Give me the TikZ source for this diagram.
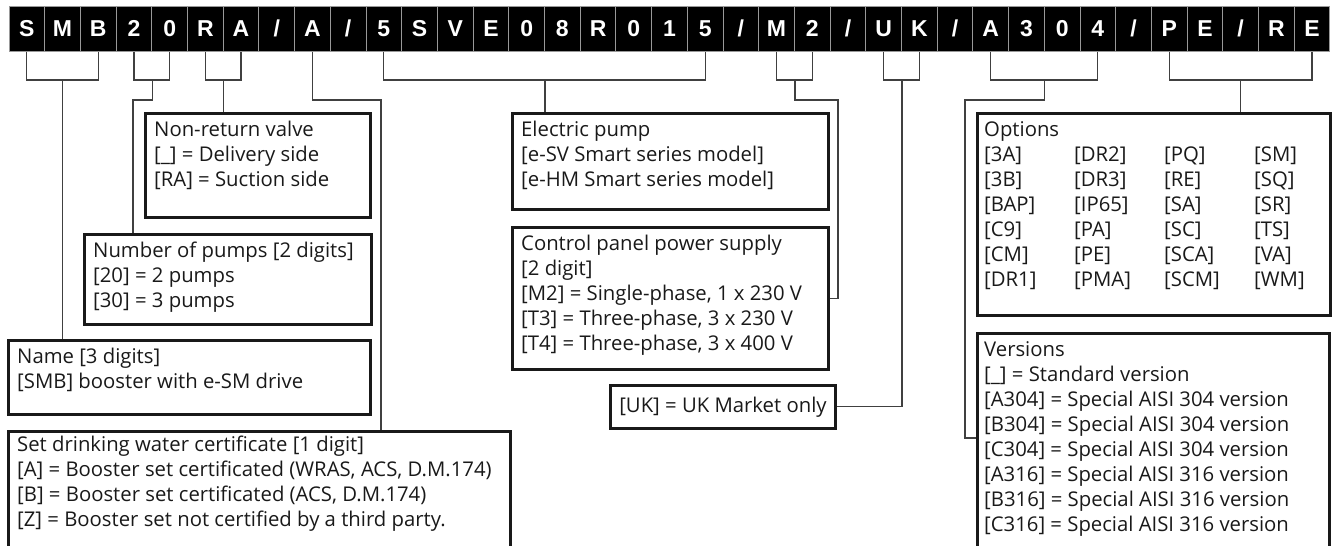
\documentclass[tikz,border=0pt]{standalone}
\usepackage{fontspec}
\setmainfont{Open Sans}
\newfontfamily\cellfont{Liberation Sans}
\newcommand\optrow[4]{\makebox[90pt][l]{#1}\makebox[90pt][l]{#2}\makebox[90pt][l]{#3}#4}

\begin{document}
\begin{tikzpicture}[x=1pt,y=-1pt,
  cell/.style={fill=black,draw=black!40,line width=1pt,
               minimum width=35.7pt,minimum height=45pt,inner sep=0pt,
               text=white,font=\cellfont\bfseries\fontsize{23}{23}\selectfont},
  box/.style={draw=black!90,line width=2.6pt,anchor=north west,inner sep=0pt},
  txt/.style={anchor=north west,inner xsep=10pt,inner ysep=9pt,align=left,
              font=\fontsize{20.3}{25}\selectfont,text=black!90},
  ln/.style={draw=black!75,line width=1.2pt}]
  \useasboundingbox (0,0) rectangle (1334,546);
  \clip (0,0) rectangle (1334,546);
  % code cells
  \foreach \ch [count=\i from 0] in {S,M,B,2,0,R,A,/,A,/,5,S,V,E,0,8,R,0,1,5,/,M,2,/,U,K,/,A,3,0,4,/,P,E,/,R,E}
    \node[cell] (c\i) at ({26.85+35.7*\i},28.5) {\ch};
  \coordinate (lv) at (0,80);
  % boxes
  \node[box,minimum width=225pt,minimum height=104pt] (nrv) at (144,112) {};
  \node[txt] (nrvT) at (nrv.north west) {Non-return valve\\{}[\_] = Delivery side\\{}[RA] = Suction side};
  \node[box,minimum width=287pt,minimum height=90pt] (nop) at (83,233) {};
  \node[txt] (nopT) at (nop.north west) {Number of pumps [2 digits]\\{}[20] = 2 pumps\\{}[30] = 3 pumps};
  \node[box,minimum width=362pt,minimum height=74pt] (nam) at (7,339) {};
  \node[txt] (namT) at (nam.north west) {Name [3 digits]\\{}[SMB] booster with e-SM drive};
  \node[box,minimum width=502pt,minimum height=140pt] (cert) at (7,430) {};
  \node[txt,inner ysep=6pt] (certT) at (cert.north west) {Set drinking water certificate [1 digit]\\{}[A] = Booster set certificated (WRAS, ACS, D.M.174)\\{}[B] = Booster set certificated (ACS, D.M.174)\\{}[Z] = Booster set not certified by a third party.};
  \node[box,minimum width=316pt,minimum height=96pt] (elp) at (511,112) {};
  \node[txt] (elpT) at (elp.north west) {Electric pump\\{}[e-SV Smart series model]\\{}[e-HM Smart series model]};
  \node[box,minimum width=316pt,minimum height=142pt] (cpp) at (511,226) {};
  \node[txt] (cppT) at (cpp.north west) {Control panel power supply\\{}[2 digit]\\{}[M2] = Single-phase, 1 x 230 V\\{}[T3] = Three-phase, 3 x 230 V\\{}[T4] = Three-phase, 3 x 400 V};
  \node[box,minimum height=43pt,inner xsep=9pt,font=\fontsize{20.3}{25}\selectfont,text=black!90] (uk) at (609,384) {[UK] = UK Market only};
  \node[box,minimum width=353pt,minimum height=202pt] (opt) at (976,112) {};
  \node[txt,inner xsep=8pt] (optT) at (opt.north west) {Options\\
    \optrow{[3A]}{[DR2]}{[PQ]}{[SM]}\\
    \optrow{[3B]}{[DR3]}{[RE]}{[SQ]}\\
    \optrow{[BAP]}{[IP65]}{[SA]}{[SR]}\\
    \optrow{[C9]}{[PA]}{[SC]}{[TS]}\\
    \optrow{[CM]}{[PE]}{[SCA]}{[VA]}\\
    \optrow{[DR1]}{[PMA]}{[SCM]}{[WM]}};
  \node[box,minimum width=352pt,minimum height=240pt] (ver) at (976,332) {};
  \node[txt,inner xsep=8pt] (verT) at (ver.north west) {Versions\\{}[\_] = Standard version\\{}[A304] = Special AISI 304 version\\{}[B304] = Special AISI 304 version\\{}[C304] = Special AISI 304 version\\{}[A316] = Special AISI 316 version\\{}[B316] = Special AISI 316 version\\{}[C316] = Special AISI 316 version};
  % jog points
  \coordinate (j20) at (133,100);
  \coordinate (j8) at (381,100);
  \coordinate (jM2) at (838,100);
  \coordinate (jA) at (965,100);
  \coordinate (jV) at (965,438);
  % brackets and leaders
  \draw[ln] (c0.south) |- (c2.south |- lv) -- (c2.south);
  \draw[ln] (c1 |- lv) -- (c1 |- nam.north);
  \draw[ln] (c3.south) |- (c4.south |- lv) -- (c4.south);
  \draw[ln] (c3.east |- lv) |- (j20) -- (j20 |- nop.north);
  \draw[ln] (c5.south) |- (c6.south |- lv) -- (c6.south);
  \draw[ln] (c5.east |- lv) -- (c5.east |- nrv.north);
  \draw[ln] (c8.south) |- (j8) -- (j8 |- cert.north);
  \draw[ln] (c10.south) |- (c19.south |- lv) -- (c19.south);
  \draw[ln] (c14.east |- lv) -- (c14.east |- elp.north);
  \draw[ln] (c21.south) |- (c22.south |- lv) -- (c22.south);
  \draw[ln] (c21.east |- lv) |- (jM2) |- (cpp.east);
  \draw[ln] (c24.south) |- (c25.south |- lv) -- (c25.south);
  \draw[ln] (c24.east |- lv) |- (uk.east);
  \draw[ln] (c27.south) |- (c30.south |- lv) -- (c30.south);
  \draw[ln] (c28.east |- lv) |- (jA) -- (jV) -- (jV -| ver.west);
  \draw[ln] (c32.south) |- (c36.south |- lv) -- (c36.south);
  \draw[ln] (c34 |- lv) -- (c34 |- opt.north);
\end{tikzpicture}
\end{document}
